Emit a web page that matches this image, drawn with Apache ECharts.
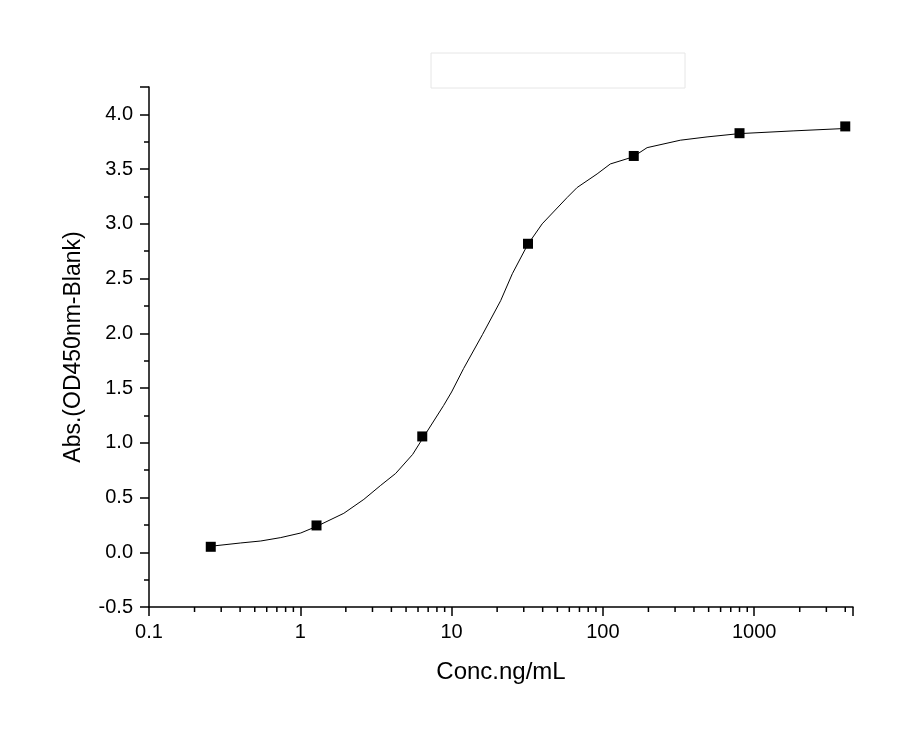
<!DOCTYPE html>
<html>
<head>
<meta charset="utf-8">
<script src="https://cdn.jsdelivr.net/npm/echarts@6/dist/echarts.min.js"></script>
<style>
  html, body { margin: 0; padding: 0; background: #fff; }
  #chart { width: 905px; height: 740px; }
</style>
</head>
<body>
<div id="chart"></div>
<script>
// measured points (5-fold dilution series)
var concX = [0.256, 1.28, 6.4, 32, 160, 800, 4000];
var absY = [0.05, 0.245, 1.058, 2.818, 3.62, 3.828, 3.89];

// fitted curve
var curveX = [0.256, 0.404, 0.548, 0.743, 1.007, 1.285, 1.94, 2.63, 3.40, 4.27, 5.53, 6.44, 8.86, 10.0, 12.0, 16.0, 21.1, 25.2, 31.8, 39.7, 58.0, 67.6, 91.6, 112, 158, 196, 325, 488, 796, 1808, 3990];
var curveY = [0.055, 0.085, 0.103, 0.134, 0.176, 0.237, 0.356, 0.483, 0.611, 0.720, 0.894, 1.040, 1.341, 1.464, 1.678, 1.988, 2.298, 2.544, 2.809, 3.000, 3.240, 3.332, 3.456, 3.547, 3.611, 3.696, 3.764, 3.794, 3.824, 3.849, 3.871];

// x axis ticks
var xDecades = [0.1, 1, 10, 100, 1000];
var xMinorMult = [2, 3, 4, 5, 6, 7, 8, 9];

var xMin = 0.1, xMax = 4500;
var yMin = -0.5, yMax = 4.25;

var font = 'Arial, "Liberation Sans", sans-serif';

var minorTicks = [];
xDecades.forEach(function(d) {
  xMinorMult.forEach(function(m) {
    var v = d * m;
    if (v < xMax) minorTicks.push([v, yMin]);
  });
});

var chart = echarts.init(document.getElementById('chart'), null, { renderer: 'canvas' });

chart.setOption({
  animation: false,
  backgroundColor: '#fff',
  grid: { left: 149, right: 52, top: 87, bottom: 133 },
  graphic: [{
    type: 'rect',
    shape: { x: 431, y: 53, width: 254, height: 35 },
    style: { fill: 'none', stroke: '#e6e6e6', lineWidth: 1 }
  }],
  xAxis: {
    type: 'log',
    logBase: 10,
    min: xMin,
    max: xMax,
    name: 'Conc.ng/mL',
    nameLocation: 'middle',
    nameGap: 53,
    nameTextStyle: { color: '#000', fontSize: 24, fontFamily: font },
    axisLine: { onZero: false, lineStyle: { color: '#000', width: 1.5 } },
    axisTick: { inside: false, length: 9, lineStyle: { color: '#000', width: 1.5 } },
    axisLabel: {
      color: '#000', fontSize: 20, fontFamily: font, margin: 15,
      formatter: function(v) {
        for (var i = 0; i < xDecades.length; i++) {
          if (Math.abs(v - xDecades[i]) < xDecades[i] * 1e-6) return String(xDecades[i]);
        }
        return '';
      }
    },
    splitLine: { show: false }
  },
  yAxis: {
    type: 'value',
    min: yMin,
    max: yMax,
    interval: 0.5,
    name: 'Abs.(OD450nm-Blank)',
    nameLocation: 'middle',
    nameGap: 64,
    nameTextStyle: { color: '#000', fontSize: 23, fontFamily: font },
    axisLine: { show: true, lineStyle: { color: '#000', width: 1.5 } },
    axisTick: { show: true, length: 9, lineStyle: { color: '#000', width: 1.5 } },
    minorTick: { show: true, splitNumber: 2, length: 5, lineStyle: { color: '#000', width: 1.5 } },
    axisLabel: {
      color: '#000', fontSize: 20, fontFamily: font, margin: 16,
      formatter: function(v) {
        var h = v * 2;
        return Math.abs(h - Math.round(h)) < 1e-6 ? v.toFixed(1) : '';
      }
    },
    splitLine: { show: false }
  },
  series: [
    {
      name: 'fit',
      type: 'line',
      data: curveX.map(function(x, i) { return [x, curveY[i]]; }),
      showSymbol: false,
      symbol: 'none',
      lineStyle: { color: '#000', width: 1 },
      z: 2
    },
    {
      name: 'data',
      type: 'scatter',
      data: concX.map(function(x, i) { return [x, absY[i]]; }),
      symbol: 'rect',
      symbolSize: 10,
      itemStyle: { color: '#000', opacity: 1 },
      z: 3
    },
    {
      name: 'minor ticks',
      type: 'custom',
      data: minorTicks,
      silent: true,
      renderItem: function(params, api) {
        var p = api.coord([api.value(0), api.value(1)]);
        return {
          type: 'line',
          shape: { x1: p[0], y1: p[1], x2: p[0], y2: p[1] + 5 },
          style: { stroke: '#000', lineWidth: 1.5 }
        };
      }
    }
  ]
});
window.addEventListener('resize', function() { chart.resize(); });
</script>
</body>
</html>
